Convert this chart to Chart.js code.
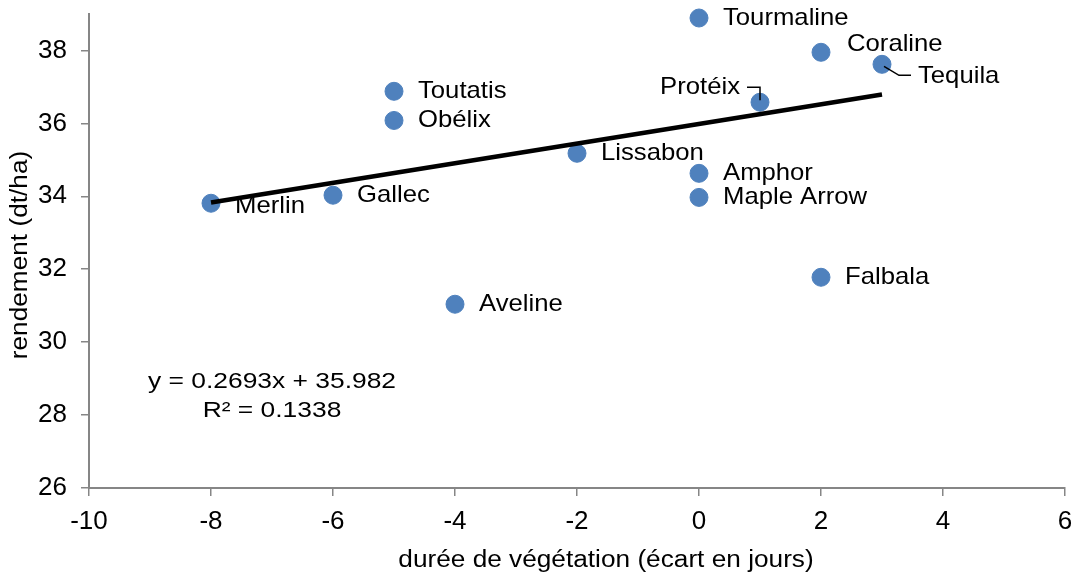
<!DOCTYPE html>
<html>
<head>
<meta charset="utf-8">
<script src="https://cdn.jsdelivr.net/npm/chart.js@4/dist/chart.umd.min.js"></script>
<style>
  body { margin: 0; background: #fff; }
  canvas { display: block; }
</style>
</head>
<body>
<canvas id="graf" width="1080" height="576"></canvas>
<script>
// variétés, écart de durée de végétation (jours) et rendement (dt/ha)
let varietes = ['Tourmaline', 'Coraline', 'Tequila', 'Protéix', 'Toutatis', 'Obélix', 'Lissabon',
  'Amphor', 'Maple Arrow', 'Gallec', 'Merlin', 'Falbala', 'Aveline']
let duree = [0, 2, 3, 1, -5, -5, -2, 0, 0, -6, -8, 2, -4]
let rendement = [38.89, 37.95, 37.62, 36.58, 36.88, 36.08, 35.18, 34.63, 33.97, 34.03, 33.81, 31.78, 31.04]

// droite de tendance
let tendanceX = [-8, 3]
let tendanceY = [33.83, 36.79]
let equation = ['y = 0.2693x + 35.982', 'R² = 0.1338']

let xTicks = [-10, -8, -6, -4, -2, 0, 2, 4, 6]
let yTicks = [26, 28, 30, 32, 34, 36, 38]

const FONT = '"Liberation Sans", Arial, sans-serif'
const AXE = '#868686'

// décalages des étiquettes (par défaut : à droite du point)
let decalages = {
  'Coraline': [26, -8],
  'Tequila': [36, 12],
  'Merlin': [24, 3],
  'Protéix': [-20, -15]
}

function texte(ctx, s, x, y, taille, align, sx, rot) {
  ctx.save()
  ctx.translate(x, y)
  if (rot) ctx.rotate(rot)
  ctx.scale(sx, 1)
  ctx.font = taille + 'px ' + FONT
  ctx.fillStyle = '#000'
  ctx.textAlign = align
  ctx.textBaseline = 'middle'
  ctx.fillText(s, 0, 0)
  ctx.restore()
}

const etiquettes = {
  id: 'etiquettes',
  afterDatasetsDraw(chart) {
    let ctx = chart.ctx
    let xs = chart.scales.x
    let ys = chart.scales.y
    let area = chart.chartArea

    // traits de rappel
    ctx.save()
    ctx.strokeStyle = '#000'
    ctx.lineWidth = 1.5
    let i = varietes.indexOf('Protéix')
    let px = xs.getPixelForValue(duree[i]), py = ys.getPixelForValue(rendement[i])
    ctx.beginPath()
    ctx.moveTo(px - 13, py - 15)
    ctx.lineTo(px, py - 15)
    ctx.lineTo(px, py - 2)
    ctx.stroke()
    i = varietes.indexOf('Tequila')
    px = xs.getPixelForValue(duree[i]); py = ys.getPixelForValue(rendement[i])
    ctx.beginPath()
    ctx.moveTo(px + 2, py + 2)
    ctx.lineTo(px + 17, py + 11)
    ctx.lineTo(px + 29, py + 11)
    ctx.stroke()
    ctx.restore()

    // noms des variétés
    varietes.forEach((nom, k) => {
      let x = xs.getPixelForValue(duree[k])
      let y = ys.getPixelForValue(rendement[k])
      let d = decalages[nom] || [24, 0]
      texte(ctx, nom, x + d[0], y + d[1], 24, d[0] < 0 ? 'right' : 'left', 1.07)
    })

    // équation de la tendance
    let ex = xs.getPixelForValue(-7.0)
    let ey = ys.getPixelForValue(28.9)
    texte(ctx, equation[0], ex, ey, 22, 'center', 1.2)
    texte(ctx, equation[1], ex, ey + 29, 22, 'center', 1.2)

    // titres des axes
    texte(ctx, 'durée de végétation (écart en jours)', (area.left + area.right) / 2 + 29, 561, 23, 'center', 1.14)
    texte(ctx, 'rendement (dt/ha)', 21, (area.top + area.bottom) / 2 + 4, 23, 'center', 1.14, -Math.PI / 2)
  }
}

let ctx = document.getElementById('graf').getContext('2d')

new Chart(ctx, {
  type: 'scatter',
  data: {
    datasets: [
      {
        type: 'line',
        data: tendanceX.map((x, k) => ({ x: x, y: tendanceY[k] })),
        borderColor: '#000',
        borderWidth: 4.5,
        pointRadius: 0,
        fill: false,
        clip: false,
        order: 0
      },
      {
        data: duree.map((x, k) => ({ x: x, y: rendement[k] })),
        backgroundColor: '#4F81BD',
        borderColor: '#4F81BD',
        pointRadius: 9,
        pointHoverRadius: 9,
        clip: false,
        order: 1
      }
    ]
  },
  options: {
    responsive: false,
    animation: false,
    layout: { padding: { top: 14, right: 15, left: 0, bottom: 0 } },
    plugins: {
      legend: { display: false },
      tooltip: { enabled: false }
    },
    scales: {
      x: {
        type: 'linear',
        min: -10,
        max: 6,
        afterBuildTicks: s => { s.ticks = xTicks.map(v => ({ value: v })) },
        afterFit: s => { s.height = 88; s.paddingLeft = 0; s.paddingRight = 0 },
        grid: { drawOnChartArea: false, drawTicks: true, tickLength: 8, color: AXE, lineWidth: 1.5 },
        border: { color: AXE, width: 2 },
        ticks: { color: '#000', padding: 10, font: { family: FONT, size: 26 } }
      },
      y: {
        type: 'linear',
        min: 26,
        max: 39,
        afterBuildTicks: s => { s.ticks = yTicks.map(v => ({ value: v })) },
        afterFit: s => { s.width = 89; s.paddingTop = 0; s.paddingBottom = 0 },
        grid: { drawOnChartArea: false, drawTicks: true, tickLength: 8, color: AXE, lineWidth: 1.5 },
        border: { color: AXE, width: 2 },
        ticks: { color: '#000', padding: 14, font: { family: FONT, size: 26 } }
      }
    }
  },
  plugins: [etiquettes]
})
</script>
</body>
</html>
